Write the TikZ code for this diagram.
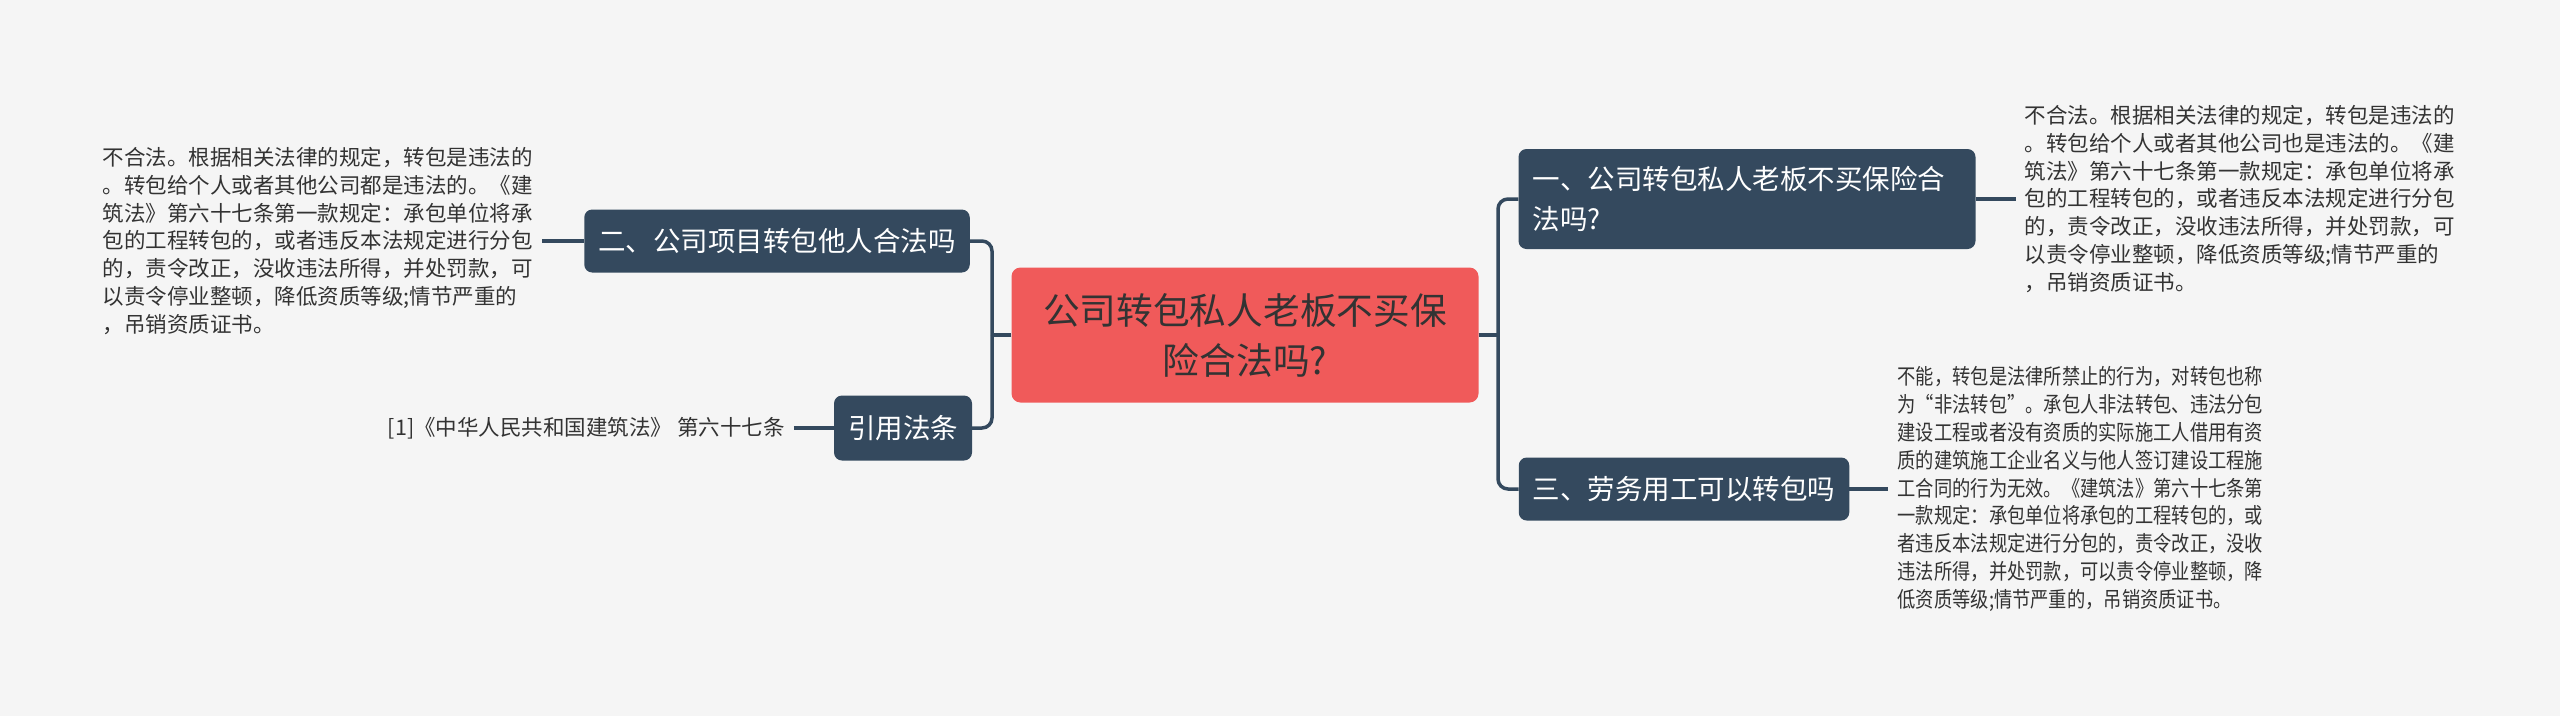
\documentclass[tikz,border=0pt]{standalone}
\usepackage{fontspec}
\setmainfont{Noto Sans CJK SC}
\newfontfamily\narrowcjk[FakeStretch=0.85]{Noto Sans CJK SC}
\usetikzlibrary{positioning}
\definecolor{bgGrey}{HTML}{F5F5F5}
\definecolor{topicBlue}{HTML}{34495E}
\definecolor{rootRed}{HTML}{F05A5A}
\definecolor{inkGrey}{HTML}{333333}

\begin{document}
\begin{tikzpicture}[
    x=1pt, y=-1pt,
    root/.style={fill=rootRed, rounded corners=9pt, text=inkGrey, align=center, minimum width=467pt, minimum height=135pt, font=\fontsize{36.7}{50}\selectfont},
    topic/.style={fill=topicBlue, rounded corners=8pt, text=white, inner xsep=14pt, inner ysep=16pt, minimum height=63pt, font=\fontsize{27.5}{40}\selectfont},
    leaf/.style={text=inkGrey, align=left, inner xsep=9pt, inner ysep=0pt, font=\fontsize{21.5}{27.8}\selectfont},
    conn/.style={draw=topicBlue, line width=3.5pt, rounded corners=10pt}
]

    % Background (fixes the page size)
    \fill[bgGrey] (0,0) rectangle (2560,716);

    % 1. Central topic
    \node[root] (root) at (1245, 335) {公司转包私人老板不买保\\险合法吗?};

    % 2. Left branches
    \node[topic] (q2) at (777, 241) {二、公司项目转包他人合法吗};
    \node[topic, minimum height=65pt] (cite) at (903, 428) {引用法条};

    \node[leaf, left=42pt of q2] (ans2) {
        不合法。根据相关法律的规定，转包是违法的\\
        。转包给个人或者其他公司都是违法的。《建\\
        筑法》第六十七条第一款规定：承包单位将承\\
        包的工程转包的，或者违反本法规定进行分包\\
        的，责令改正，没收违法所得，并处罚款，可\\
        以责令停业整顿，降低资质等级;情节严重的\\
        ，吊销资质证书。
    };
    \node[leaf, left=40pt of cite] (lawref) {[1]《中华人民共和国建筑法》 第六十七条};

    % 3. Right branches
    \node[topic, text width=429pt, align=left, minimum height=100pt] (q1) at (1747, 199) {一、公司转包私人老板不买保险合\\法吗?};
    \node[topic] (q3) at (1684, 489) {三、劳务用工可以转包吗};

    \node[leaf, right=40pt of q1] (ans1) {
        不合法。根据相关法律的规定，转包是违法的\\
        。转包给个人或者其他公司也是违法的。《建\\
        筑法》第六十七条第一款规定：承包单位将承\\
        包的工程转包的，或者违反本法规定进行分包\\
        的，责令改正，没收违法所得，并处罚款，可\\
        以责令停业整顿，降低资质等级;情节严重的\\
        ，吊销资质证书。
    };
    \node[leaf, font=\narrowcjk\fontsize{21.5}{27.8}\selectfont, right=39pt of q3] (ans3) {
        不能，转包是法律所禁止的行为，对转包也称\\
        为“非法转包”。承包人非法转包、违法分包\\
        建设工程或者没有资质的实际施工人借用有资\\
        质的建筑施工企业名义与他人签订建设工程施\\
        工合同的行为无效。《建筑法》第六十七条第\\
        一款规定：承包单位将承包的工程转包的，或\\
        者违反本法规定进行分包的，责令改正，没收\\
        违法所得，并处罚款，可以责令停业整顿，降\\
        低资质等级;情节严重的，吊销资质证书。
    };

    % 4. Connections
    \coordinate (lbus) at (992, 335);
    \coordinate (rbus) at (1498, 335);

    \draw[conn] (root.west) -- (lbus);
    \draw[conn] (lbus) |- (q2.east);
    \draw[conn] (lbus) |- (cite.east);
    \draw[conn] (root.east) -- (rbus);
    \draw[conn] (rbus) |- (q1.west);
    \draw[conn] (rbus) |- (q3.west);

    \draw[conn] (ans2.east) -- (q2.west);
    \draw[conn] (lawref.east) -- (cite.west);
    \draw[conn] (q1.east) -- (ans1.west);
    \draw[conn] (q3.east) -- (ans3.west);

\end{tikzpicture}
\end{document}
